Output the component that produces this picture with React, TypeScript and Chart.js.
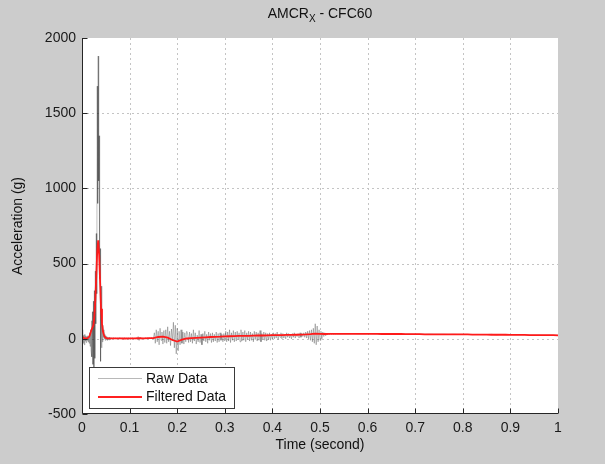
import React, { useEffect, useRef } from "react";
import { Chart, registerables } from "chart.js";

Chart.register(...registerables);

// ---------- text ----------
const TITLE_MAIN = "AMCR";
const TITLE_SUB = "X";
const TITLE_REST = " - CFC60";
const X_LABEL = "Time (second)";
const Y_LABEL = "Acceleration (g)";
const LEGEND_LABELS = ["Raw Data", "Filtered Data"];

// ---------- ticks ----------
const X_TICKS = [0, 0.1, 0.2, 0.3, 0.4, 0.5, 0.6, 0.7, 0.8, 0.9, 1];
const X_TICK_LABELS = ["0", "0.1", "0.2", "0.3", "0.4", "0.5", "0.6", "0.7", "0.8", "0.9", "1"];
const Y_TICKS = [-500, 0, 500, 1000, 1500, 2000];

// ---------- raw data (g), sampled segments ----------
const RAW_A_START = 0;
const RAW_A_STEP = 0.001;
const RAW_A = [
  60, -20, 40, -30, 25, -40, 30, -15, 20, -25,
  15, -10, 20, -20, 10, -30, 40, -50, 60, -80,
  120, -120, 180, -170, 250, -190, 320, -130, 450, 100,
  700, 300, 1680, 900, 1880, 1050, 1350, 400, 600, -150,
  350, -60, 180, -20, 90, 10, 60, 0, 30, -10,
  20, -5, 15, -10, 10, 0, 8, -8, 12, -5,
  5,
];

const RAW_B_START = 0.062;
const RAW_B_STEP = 0.002;
const RAW_B = [
  // 0.062 - 0.150
  6, -1, 8, 0, 7, -2, 5, 0, 8, 2,
  6, -1, 5, 1, 7, 0, 4, 1, 6, -1,
  5, 2, 7, 0, 5, -2, 6, 1, 15, -11,
  11, 0, 5, -1, 6, 1, 7, 0, 5, 2,
  6, -1, 8, 1, 6,
  // 0.152 - 0.220
  40, -30, 60, -20, 50, -40, 70, -10, 45, -35,
  55, -25, 60, -30, 80, -20, 50, -45, 65, -15,
  110, -60, 90, -100, 70, -80, 50, -40, 60, -30,
  45, -35, 40, -20, 50,
  // 0.222 - 0.300
  30, -25, 45, -20, 35, -30, 60, -15, 40, -35,
  25, -20, 55, -25, 30, -40, 35, -15, 50, -20,
  30, -30, 45, -10, 35, -25, 40, -20, 30, -15,
  45, -25, 35, -20, 40, -10, 30, -20, 35, -15,
  // 0.302 - 0.400
  50, -20, 45, -15, 60, -25, 40, -10, 55, -20,
  45, -15, 50, -5, 40, -20, 60, -15, 45, -10,
  55, -20, 40, -5, 50, -15, 45, -10, 35, -20,
  50, -5, 45, -15, 40, -10, 55, -20, 35, -5,
  45, -10, 40, -15, 35, -5, 40, -10, 30, 0,
  // 0.402 - 0.460
  40, 0, 35, 5, 45, -5, 30, 10, 40, 0,
  35, 5, 30, 0, 40, 10, 35, 5, 30, 0,
  35, 10, 40, 5, 30, 15, 35, 5, 40, 10,
  // 0.462 - 0.540
  35, 15, 40, 10, 45, 5, 50, 0, 55, -10,
  60, -20, 70, -30, 100, -40, 85, -20, 60, -10,
  50, 0, 45, 15, 40, 20, 35, 25, 38, 28,
  36, 30, 35, 30, 34, 31, 34, 32, 33, 32,
];

const RAW_C_START = 0.55;
const RAW_C_STEP = 0.01;
const RAW_C = [
  33, 33, 34, 33, 33, 34, 33, 33, 32, 33,
  32, 32, 32, 31, 32, 31, 31, 30, 31, 30,
  30, 30, 29, 30, 29, 29, 29, 28, 29, 28,
  28, 30, 26, 29, 27, 27, 26, 26, 26, 25,
  25, 25, 24, 24, 24, 23,
];

// ---------- filtered data (g) ----------
const FILT_A_START = 0;
const FILT_A_STEP = 0.002;
const FILT_A = [
  15, 10, 5, 3, 2, 3, 5, 10, 20, 40,
  60, 75, 90, 150, 260, 420, 580, 655, 560, 380,
  200, 100, 50, 25, 12, 6, 4, 3, 3, 3,
  3,
];

const FILT_B_START = 0.07;
const FILT_B_STEP = 0.01;
const FILT_B = [
  3, 3, 2, 3, 3, 4, 3, 4, 5, 12,
  14, 8, -8, -18, -6, 2, 4, 6, 8, 10,
  12, 13, 14, 16, 17, 18, 19, 20, 20, 21,
  22, 22, 23, 24, 24, 25, 26, 26, 27, 28,
  29, 31, 35, 33, 32, 33, 33, 33,
  33, 33, 33, 33, 33, 33, 33, 33, 32, 32,
  32, 32, 32, 31, 31, 31, 31, 30, 30, 30,
  30, 30, 29, 29, 29, 29, 29, 28, 28, 28,
  28, 27, 27, 27, 27, 26, 26, 26, 26, 25,
  25, 25, 24, 24, 24, 23,
];

const X_MIN = 0;
const X_MAX = 1;
const Y_MIN = -500;
const Y_MAX = 2000;

function seg(start: number, step: number, vals: number[]) {
  return vals.map((v, i) => ({ x: +(start + i * step).toFixed(4), y: v }));
}

const FONT = "'Liberation Sans', Arial, Helvetica, sans-serif";
const FS = 14;

const decorPlugin = {
  id: "decor",
  beforeDraw(chart: any) {
    const { ctx, chartArea: a } = chart;
    ctx.save();
    ctx.fillStyle = "#cccccc";
    ctx.fillRect(0, 0, chart.width, chart.height);
    ctx.fillStyle = "#ffffff";
    ctx.fillRect(a.left, a.top, a.right - a.left, a.bottom - a.top);
    ctx.restore();
  },
  beforeDatasetsDraw(chart: any) {
    const { ctx, chartArea: a, scales } = chart;
    const xs = scales.x;
    const ys = scales.y;
    ctx.save();
    ctx.strokeStyle = "#c4c4c4";
    ctx.lineWidth = 1;
    ctx.setLineDash([2, 3]);
    X_TICKS.forEach((v) => {
      if (v <= X_MIN || v >= X_MAX) return;
      const px = Math.round(xs.getPixelForValue(v)) + 0.5;
      ctx.beginPath();
      ctx.moveTo(px, a.top);
      ctx.lineTo(px, a.bottom);
      ctx.stroke();
    });
    Y_TICKS.forEach((v) => {
      if (v <= Y_MIN || v >= Y_MAX) return;
      const py = Math.round(ys.getPixelForValue(v)) + 0.5;
      ctx.beginPath();
      ctx.moveTo(a.left, py);
      ctx.lineTo(a.right, py);
      ctx.stroke();
    });
    ctx.restore();
  },
  afterDatasetsDraw(chart: any) {
    const { ctx, chartArea: a, scales } = chart;
    const xs = scales.x;
    const ys = scales.y;
    ctx.save();
    ctx.strokeStyle = "#262626";
    ctx.lineWidth = 1;
    const left = Math.round(a.left) + 0.5;
    const bottom = Math.round(a.bottom) - 0.5;
    ctx.beginPath();
    ctx.moveTo(left, a.top);
    ctx.lineTo(left, bottom);
    ctx.lineTo(a.right, bottom);
    ctx.stroke();
    const tl = 5;
    X_TICKS.forEach((v) => {
      const px = Math.round(xs.getPixelForValue(v)) + 0.5;
      ctx.beginPath();
      ctx.moveTo(px, bottom);
      ctx.lineTo(px, bottom - tl);
      ctx.stroke();
    });
    Y_TICKS.forEach((v) => {
      const py = Math.round(ys.getPixelForValue(v)) + 0.5;
      ctx.beginPath();
      ctx.moveTo(left, py);
      ctx.lineTo(left + tl, py);
      ctx.stroke();
    });

    // legend
    const lx = 89.5, ly = 367.5, lw = 145, lh = 41;
    ctx.fillStyle = "#ffffff";
    ctx.fillRect(lx, ly, lw, lh);
    ctx.strokeStyle = "#3a3a3a";
    ctx.strokeRect(lx, ly, lw, lh);
    ctx.strokeStyle = "#b8b8b8";
    ctx.lineWidth = 1;
    ctx.beginPath();
    ctx.moveTo(98, 378.5);
    ctx.lineTo(142, 378.5);
    ctx.stroke();
    ctx.strokeStyle = "#ff2020";
    ctx.lineWidth = 2;
    ctx.beginPath();
    ctx.moveTo(98, 397);
    ctx.lineTo(142, 397);
    ctx.stroke();
    ctx.fillStyle = "#111111";
    ctx.font = `${FS}px ${FONT}`;
    ctx.textAlign = "left";
    ctx.textBaseline = "middle";
    ctx.fillText(LEGEND_LABELS[0], 146, 379);
    ctx.fillText(LEGEND_LABELS[1], 146, 397);

    // title
    const cx = (a.left + a.right) / 2;
    ctx.font = `${FS}px ${FONT}`;
    const w1 = ctx.measureText(TITLE_MAIN).width;
    const w3 = ctx.measureText(TITLE_REST).width;
    ctx.font = `10px ${FONT}`;
    const w2 = ctx.measureText(TITLE_SUB).width;
    let sx = cx - (w1 + w2 + w3) / 2;
    ctx.textBaseline = "alphabetic";
    ctx.font = `${FS}px ${FONT}`;
    ctx.fillText(TITLE_MAIN, sx, 18);
    sx += w1;
    ctx.font = `10px ${FONT}`;
    ctx.fillText(TITLE_SUB, sx, 22);
    sx += w2;
    ctx.font = `${FS}px ${FONT}`;
    ctx.fillText(TITLE_REST, sx, 18);

    // axis titles
    ctx.textAlign = "center";
    ctx.textBaseline = "middle";
    ctx.fillText(X_LABEL, cx, 445);
    ctx.save();
    ctx.translate(18, (a.top + a.bottom) / 2);
    ctx.rotate(-Math.PI / 2);
    ctx.fillText(Y_LABEL, 0, 0);
    ctx.restore();
    ctx.restore();
  },
};

export default function App() {
  const ref = useRef<HTMLCanvasElement>(null);
  useEffect(() => {
    document.body.style.margin = "0";
    const canvas = ref.current!;
    const rawPoints = [
      ...seg(RAW_A_START, RAW_A_STEP, RAW_A),
      ...seg(RAW_B_START, RAW_B_STEP, RAW_B),
      ...seg(RAW_C_START, RAW_C_STEP, RAW_C),
    ];
    const filtPoints = [
      ...seg(FILT_A_START, FILT_A_STEP, FILT_A),
      ...seg(FILT_B_START, FILT_B_STEP, FILT_B),
    ];
    const chart = new Chart(canvas, {
      type: "line",
      data: {
        datasets: [
          {
            label: LEGEND_LABELS[1],
            data: filtPoints,
            borderColor: "#ff1a1a",
            borderWidth: 1.8,
            pointRadius: 0,
            tension: 0,
            order: 0,
          },
          {
            label: LEGEND_LABELS[0],
            data: rawPoints,
            borderColor: "rgba(40,40,40,0.5)",
            borderWidth: 0.6,
            pointRadius: 0,
            tension: 0,
            order: 1,
          },
        ],
      },
      options: {
        animation: false,
        responsive: false,
        devicePixelRatio: 1,
        layout: { padding: { top: 38, right: 47, bottom: 0, left: 0 } },
        plugins: {
          legend: { display: false },
          title: { display: false },
          tooltip: { enabled: false },
        },
        scales: {
          x: {
            type: "linear",
            min: X_MIN,
            max: X_MAX,
            grid: { display: false, drawTicks: false },
            border: { display: false },
            afterBuildTicks: (s: any) => {
              s.ticks = X_TICKS.map((v) => ({ value: v }));
            },
            afterFit: (s: any) => {
              s.height = 50;
            },
            ticks: {
              padding: 6,
              color: "#1a1a1a",
              font: { family: FONT, size: FS },
              maxRotation: 0,
              autoSkip: false,
              callback: (v: any) => X_TICK_LABELS[X_TICKS.indexOf(Number(v))] ?? "",
            },
          },
          y: {
            type: "linear",
            min: Y_MIN,
            max: Y_MAX,
            grid: { display: false, drawTicks: false },
            border: { display: false },
            afterBuildTicks: (s: any) => {
              s.ticks = Y_TICKS.map((v) => ({ value: v }));
            },
            afterFit: (s: any) => {
              s.width = 82;
            },
            ticks: {
              padding: 6,
              color: "#1a1a1a",
              font: { family: FONT, size: FS },
              autoSkip: false,
              callback: (v: any) => String(v),
            },
          },
        },
      },
      plugins: [decorPlugin],
    });
    return () => chart.destroy();
  }, []);
  return (
    <div style={{ width: 605, height: 464 }}>
      <canvas ref={ref} width={605} height={464} style={{ display: "block", width: 605, height: 464 }} />
    </div>
  );
}
